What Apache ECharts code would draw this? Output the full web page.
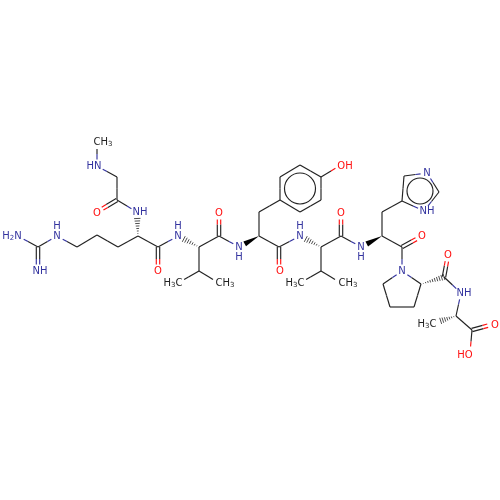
<!DOCTYPE html>
<html><head><meta charset="utf-8"><style>html,body{margin:0;padding:0;background:#fff}#c{width:500px;height:500px}</style>
<script src="https://cdn.jsdelivr.net/npm/echarts@6/dist/echarts.min.js"></script></head><body><div id="c"></div>
<script>
const atomX=[97,97,117,117,97,137,138,118,97,77,57,38,18,38,158,158,178,199,219,219,239,259,259,280,280,300,321,321,300,341,279,279,300,321,199,178,219,321,300,341,341,341,361,382,382,402,404,427,439,424,402,422,402,421,414,390,383,444,448,461,456,434,472,494,470];
const atomY=[142,166,177,200,212,212,236,247,235,247,236,247,236,271,247,271,236,247,236,213,247,236,212,200,177,165,177,200,212,165,247,271,236,247,271,283,283,271,283,283,236,213,247,236,212,201,176,173,192,211,247,236,271,284,307,307,284,277,255,293,316,323,330,324,353];
const atomEl=['M','N','C','C','O','N','C','C','C','C','N','C','N','N','C','O','N','C','C','O','N','C','C','C','C','C','C','C','C','O','C','O','N','C','C','M','M','C','M','M','C','O','N','C','C','C','C','N','C','N','C','O','N','C','C','C','C','C','O','N','C','M','C','O','O'];
const singleBonds=[[0,1],[1,2],[2,3],[3,5],[6,7],[7,8],[8,9],[9,10],[10,11],[11,12],[6,14],[14,16],[17,18],[18,20],[21,22],[22,23],[23,24],[24,25],[25,26],[26,27],[27,28],[28,23],[26,29],[21,30],[30,32],[17,34],[34,35],[34,36],[33,37],[37,38],[37,39],[33,40],[40,42],[43,44],[44,45],[45,46],[46,47],[47,48],[48,49],[49,45],[43,50],[50,52],[52,53],[53,54],[54,55],[55,56],[56,52],[57,59],[59,60],[60,62],[62,64]];
const doubleBonds=[[3,4],[11,13],[14,15],[18,19],[30,31],[40,41],[50,51],[57,58],[62,63]];
const hashBonds=[[6,5],[17,16],[33,32],[53,57],[60,61]];
const wedgeBonds=[[21,20],[43,42]];
const aromaticRings=[[300,188.5,15.5],[420,191,13]];
const labelX=[103,94,97,140,12,57,57,40,158,178,178,219,239,239,280,300,300,345,173,225,295,348,341,361,361,427,427,422,448,464,427,495,465,402];
const labelY=[142,166,213,212,236,236,226,271,271,236,226,213,247,257,271,236,226,166,283,283,283,283,213,247,257,173,211,236,255,293,324,325,355,271];
const labelText=['CH3','HN','O','NH','H2N','N','H','NH','O','N','H','O','N','H','O','N','H','OH','H3C','CH3','H3C','CH3','O','N','H','N','NH','O','O','NH','H3C','O','HO','N'];
const labelEl=['M','N','O','N','N','N','N','N','O','N','N','O','N','N','O','N','N','O','M','M','M','M','O','N','N','N','N','O','O','N','M','O','O','N'];

const COL={C:'#222222',M:'#222222',N:'#33339f',O:'#ff1010'};
const GAP={C:0,M:7,N:6.5,O:6.5};
const LW=1.15;
function trim(api,a,b){
  const p=api.coord([atomX[a],atomY[a]]),q=api.coord([atomX[b],atomY[b]]);
  const dx=q[0]-p[0],dy=q[1]-p[1],L=Math.hypot(dx,dy),ux=dx/L,uy=dy/L;
  return {p,q,ux,uy,L,
    s:[p[0]+ux*GAP[atomEl[a]],p[1]+uy*GAP[atomEl[a]]],
    e:[q[0]-ux*GAP[atomEl[b]],q[1]-uy*GAP[atomEl[b]]],
    m:[(p[0]+q[0])/2,(p[1]+q[1])/2]};
}
function seg(a,b,c,w){return {type:'line',shape:{x1:a[0],y1:a[1],x2:b[0],y2:b[1]},style:{stroke:c,lineWidth:w||LW,fill:null}};}
function halves(s,m,e,a,b,ox,oy){
  return [seg([s[0]+ox,s[1]+oy],[m[0]+ox,m[1]+oy],COL[atomEl[a]]),seg([m[0]+ox,m[1]+oy],[e[0]+ox,e[1]+oy],COL[atomEl[b]])];
}
function rich(t,el){
  const c=COL[el];
  const parts=t.replace(/(\d)/g,'{s|$1}').replace(/([A-Z]+)/g,'{a|$1}');
  return {text:parts,rich:{a:{fontFamily:'DejaVu Sans',fontSize:10,fill:c,lineHeight:12},s:{fontFamily:'DejaVu Sans',fontSize:7,fill:c,lineHeight:12,verticalAlign:'bottom',padding:[3,0,0,0]}}};
}
const axis=(inv)=>({type:'value',min:0,max:500,inverse:inv,show:false});
const chart=echarts.init(document.getElementById('c'),null,{renderer:'canvas'});
chart.setOption({animation:false,backgroundColor:'#fff',
 grid:{left:0,right:0,top:0,bottom:0},xAxis:axis(false),yAxis:axis(true),
 series:[
 {type:'custom',name:'single',coordinateSystem:'cartesian2d',silent:true,clip:false,data:singleBonds,encode:{x:0,y:1},
  renderItem:(p,api)=>{const [a,b]=singleBonds[p.dataIndex],t=trim(api,a,b);
   return {type:'group',children:halves(t.s,t.m,t.e,a,b,0,0)};}},
 {type:'custom',name:'double',coordinateSystem:'cartesian2d',silent:true,clip:false,data:doubleBonds,encode:{x:0,y:1},
  renderItem:(p,api)=>{const [a,b]=doubleBonds[p.dataIndex],t=trim(api,a,b),ox=-t.uy*1.7,oy=t.ux*1.7;
   return {type:'group',children:[...halves(t.s,t.m,t.e,a,b,ox,oy),...halves(t.s,t.m,t.e,a,b,-ox,-oy)]};}},
 {type:'custom',name:'hash',coordinateSystem:'cartesian2d',silent:true,clip:false,data:hashBonds,encode:{x:0,y:1},
  renderItem:(p,api)=>{const [a,b]=hashBonds[p.dataIndex],t=trim(api,a,b),ch=[];
   const len=Math.hypot(t.e[0]-t.p[0],t.e[1]-t.p[1]),n=Math.round(len/2.4);
   for(let i=1;i<=n;i++){const f=i/n*len,h=f/len*3.2,cx=t.p[0]+t.ux*f,cy=t.p[1]+t.uy*f;
    ch.push(seg([cx-t.uy*h,cy+t.ux*h],[cx+t.uy*h,cy-t.ux*h],COL.C,0.8));}
   return {type:'group',children:ch};}},
 {type:'custom',name:'wedge',coordinateSystem:'cartesian2d',silent:true,clip:false,data:wedgeBonds,encode:{x:0,y:1},
  renderItem:(p,api)=>{const [a,b]=wedgeBonds[p.dataIndex],t=trim(api,a,b),h=2.8;
   return {type:'polygon',shape:{points:[t.p,[t.e[0]-t.uy*h,t.e[1]+t.ux*h],[t.e[0]+t.uy*h,t.e[1]-t.ux*h]]},style:{fill:'#000'}};}},
 {type:'custom',name:'rings',coordinateSystem:'cartesian2d',silent:true,clip:false,data:aromaticRings,encode:{x:0,y:1},
  renderItem:(p,api)=>{const c=api.coord([api.value(0),api.value(1)]),r=api.size([api.value(2),0])[0];
   return {type:'circle',shape:{cx:c[0],cy:c[1],r},style:{stroke:COL.C,fill:null,lineWidth:LW}};}},
 {type:'custom',name:'labels',coordinateSystem:'cartesian2d',silent:true,clip:false,data:labelX.map((x,i)=>[x,labelY[i]]),encode:{x:0,y:1},
  renderItem:(p,api)=>{const i=p.dataIndex,c=api.coord([labelX[i],labelY[i]]),r=rich(labelText[i],labelEl[i]);
   return {type:'text',style:{x:c[0],y:c[1],text:r.text,rich:r.rich,align:'center',verticalAlign:'middle'}};}}
 ]});
</script></body></html>
